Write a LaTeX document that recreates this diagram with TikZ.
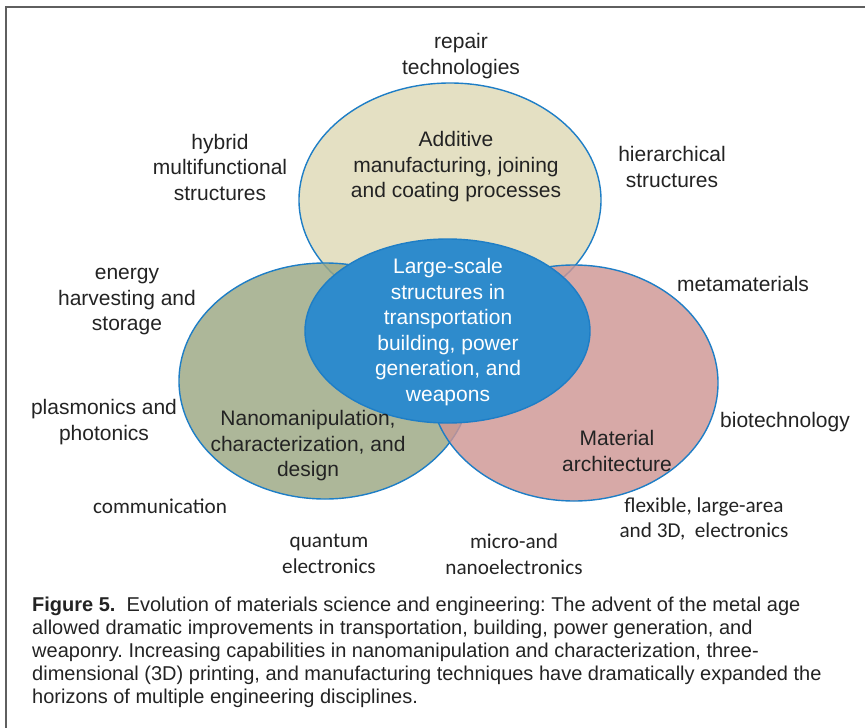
\documentclass[tikz,border=0pt]{standalone}
\usepackage{fontspec}
\setmainfont{Liberation Sans}
\newfontfamily\calibrifont{Carlito}
\usetikzlibrary{shapes.geometric}
\frenchspacing

\definecolor{ringblue}{RGB}{30,126,198}
\definecolor{beigefill}{RGB}{222,217,182}
\definecolor{greenfill}{RGB}{155,167,131}
\definecolor{pinkfill}{RGB}{206,150,148}
\definecolor{corefill}{RGB}{46,139,204}
\definecolor{inkgray}{RGB}{35,35,35}
\definecolor{framegray}{RGB}{95,95,95}

\begin{document}
\begin{tikzpicture}[
  x=1pt,y=-1pt,
  font=\fontsize{21}{25.5}\selectfont,
  venn/.style={
    ellipse,
    draw=ringblue,
    line width=1.4pt,
    inner sep=0pt,
    fill opacity=0.82
  },
  outer/.style={
    align=center,
    inner sep=0pt,
    text=inkgray
  },
  calibri/.style={
    outer,
    font=\calibrifont\fontsize{21.2}{25.5}\selectfont
  },
  caption/.style={
    align=left,
    inner sep=0pt,
    anchor=north west,
    text=inkgray,
    font=\fontsize{20}{23}\selectfont
  }
]
  \useasboundingbox (0,0) rectangle (865,728);
  \draw[framegray,line width=1.5pt] (6,730) -- (6,7) -- (867,7);

  % three overlapping fields
  \node[venn,fill=beigefill,minimum width=302pt,minimum height=234pt] (additive) at (450,200) {};
  \node[venn,fill=greenfill,minimum width=292pt,minimum height=236pt] (nano) at (325,381) {};
  \node[venn,fill=pinkfill,minimum width=288pt,minimum height=236pt] (material) at (574,383) {};
  \node[venn,fill=corefill,fill opacity=1,minimum width=285pt,minimum height=184pt] (core) at (447.5,331) {};

  \node[outer] (additivetext) at (456,167) {Additive\\manufacturing, joining\\and coating processes};
  \node[outer] (nanotext) at (308,446) {Nanomanipulation,\\characterization, and\\design};
  \node[outer] (materialtext) at (617,451) {Material\\architecture};
  \node[outer,text=white] (coretext) at (448,332) {Large-scale\\structures in\\transportation\\building, power\\generation, and\\weapons};

  % application areas around the rings
  \node[outer] (repair) at (461,56) {repair\\technologies};
  \node[outer] (hybrid) at (220,167) {hybrid\\multifunctional\\structures};
  \node[outer] (hierarchical) at (672,167) {hierarchical\\structures};
  \node[outer] (energy) at (127,302) {energy\\harvesting and\\storage};
  \node[outer] (meta) at (743,284) {metamaterials};
  \node[outer] (plasmonics) at (104,422) {plasmonics and\\photonics};
  \node[outer] (biotech) at (785,422) {biotechnology};
  \node[calibri] (communication) at (160,506) {communication};
  \node[calibri] (flexible) at (704,519) {flexible, large-area\\and 3D,\ \ electronics};
  \node[calibri] (quantum) at (329,554) {quantum\\electronics};
  \node[calibri] (micro) at (514,554) {micro-and\\nanoelectronics};

  \node[caption] (figcaption) at (32,597) {\textbf{Figure 5.}\ \ Evolution of materials science and engineering: The advent of the metal age\\
    allowed dramatic improvements in transportation, building, power generation, and\\
    weaponry. Increasing capabilities in nanomanipulation and characterization, three-\\
    dimensional (3D) printing, and manufacturing techniques have dramatically expanded the\\
    horizons of multiple engineering disciplines.};
\end{tikzpicture}
\end{document}
